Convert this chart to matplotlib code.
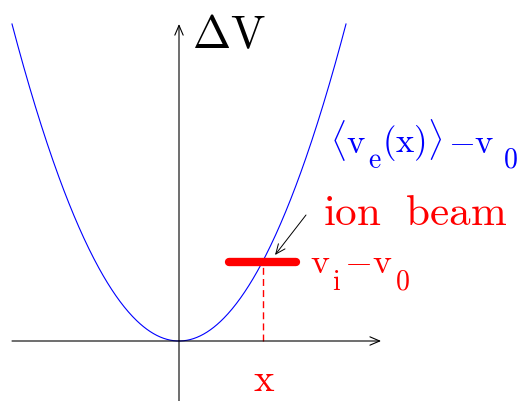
import numpy as np
import matplotlib.pyplot as plt

plt.rcParams['mathtext.fontset'] = 'cm'

# -----------------------------
# Sketch data (normalised units)
# -----------------------------
curve_coef = 1.0            # <v_e(x)> - v_0 = coef * x^2
curve_xmin, curve_xmax = -1.0, 1.0
beam_x = 0.5                # position x of the ion beam
beam_halfwidth = 0.2
beam_y = curve_coef * beam_x**2   # v_i - v_0

x_axis_end = 1.21
y_axis_end = 1.0

curve_x = np.linspace(curve_xmin, curve_xmax, 400)
curve_y = curve_coef * curve_x**2

BLUE = '#0000ff'
RED = '#ff0000'


def px(xp):
    # horizontal pixel of the 521x402 canvas -> data
    return (xp - 179) / 167


def py(yp):
    # vertical pixel -> data
    return (342 - yp) / 317


fig = plt.figure(figsize=(5.21, 4.02), dpi=100)
ax = fig.add_axes([0, 0, 1, 1])
ax.set_xlim(px(0), px(521))
ax.set_ylim(py(402), py(0))
ax.axis('off')

arrow = dict(arrowstyle='->,head_length=0.7,head_width=0.3',
             lw=0.8, color='k', shrinkA=0, shrinkB=0)

# axes with arrows
ax.annotate('', xy=(x_axis_end, 0), xytext=(curve_xmin, 0), arrowprops=arrow)
ax.annotate('', xy=(0, y_axis_end), xytext=(0, py(402)), arrowprops=arrow)

# parabola
ax.plot(curve_x, curve_y, color=BLUE, lw=0.8)

# ion beam bar and its position
ax.plot([beam_x - beam_halfwidth, beam_x + beam_halfwidth], [beam_y, beam_y],
        color=RED, lw=6, solid_capstyle='round')
ax.plot([beam_x, beam_x], [0, beam_y], color=RED, lw=1, dashes=(5, 3))

# pointer to the beam
ax.annotate('', xy=(px(275), py(256)), xytext=(px(306), py(216)),
            arrowprops=dict(arrow, lw=0.7))

# labels
ax.text(px(192), py(48), r'$\Delta\mathrm{V}$', fontsize=33, color='k',
        va='baseline', ha='left')

# <v_e(x)> - v_0 , built from pieces so subscripts sit low like the original
blue_parts = [(330, 153, r'$\langle\mathrm{v}$', 25),
              (368, 168, r'$\mathrm{e}$', 20),
              (382, 153, r'$(\mathrm{x})\rangle$', 25),
              (448, 153, r'$-\mathrm{v}$', 25),
              (503, 168, r'$0$', 20)]
for xp, yp, s, fs in blue_parts:
    ax.text(px(xp), py(yp), s, fontsize=fs, color=BLUE,
            va='baseline', ha='left')

ax.text(px(323), py(225), r'$\mathrm{ion\ \ beam}$', fontsize=31, color=RED,
        va='baseline', ha='left')

red_parts = [(310, 273, r'$\mathrm{v}$', 26),
             (332, 290, r'$\mathrm{i}$', 20),
             (344, 273, r'$-\mathrm{v}$', 26),
             (395, 290, r'$0$', 20)]
for xp, yp, s, fs in red_parts:
    ax.text(px(xp), py(yp), s, fontsize=fs, color=RED,
            va='baseline', ha='left')

ax.text(beam_x + px(264) - px(262), py(391), r'$\mathrm{x}$', fontsize=28,
        color=RED, va='baseline', ha='center')

fig.savefig('out.png', dpi=100)
